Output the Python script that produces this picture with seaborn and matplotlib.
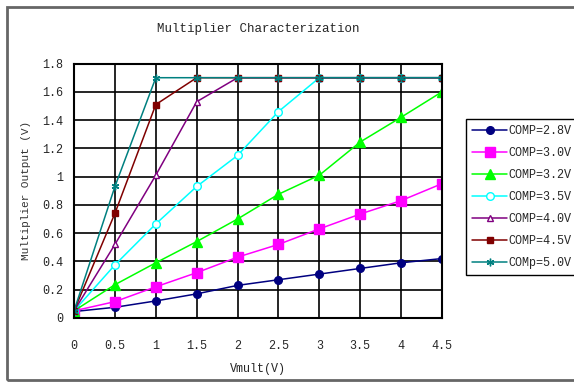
import matplotlib
matplotlib.use("Agg")
import matplotlib.pyplot as plt
import matplotlib.patches as mpatches
import numpy as np
import pandas as pd
import seaborn as sns

# data
vmult = [0, 0.5, 1, 1.5, 2, 2.5, 3, 3.5, 4, 4.5]
comp_28 = [0.045, 0.075, 0.12, 0.17, 0.23, 0.27, 0.31, 0.35, 0.39, 0.42]
comp_30 = [0.05, 0.115, 0.22, 0.32, 0.43, 0.52, 0.63, 0.735, 0.83, 0.95]
comp_32 = [0.05, 0.235, 0.39, 0.54, 0.70, 0.875, 1.01, 1.245, 1.42, 1.6]
comp_35 = [0.05, 0.375, 0.665, 0.93, 1.15, 1.46, 1.7, 1.7, 1.7, 1.7]
comp_40 = [0.05, 0.52, 1.01, 1.53, 1.7, 1.7, 1.7, 1.7, 1.7, 1.7]
comp_45 = [0.05, 0.74, 1.51, 1.7, 1.7, 1.7, 1.7, 1.7, 1.7, 1.7]
comp_50 = [0.05, 0.93, 1.7, 1.7, 1.7, 1.7, 1.7, 1.7, 1.7, 1.7]
labels = ["COMP=2.8V", "COMP=3.0V", "COMP=3.2V", "COMP=3.5V",
          "COMP=4.0V", "COMP=4.5V", "COMp=5.0V"]
x_ticks = [0, 0.5, 1, 1.5, 2, 2.5, 3, 3.5, 4, 4.5]
y_ticks = [0, 0.2, 0.4, 0.6, 0.8, 1, 1.2, 1.4, 1.6, 1.8]

series = [comp_28, comp_30, comp_32, comp_35, comp_40, comp_45, comp_50]
colors = ["#000080", "#FF00FF", "#00FF00", "#00FFFF", "#800080", "#800000", "#008080"]
markers = ["o", "s", "^", "o", "^", "s", (6, 2, 0)]
msizes = [5.5, 6.5, 6.5, 5.5, 4, 5, 5.5]
mfaces = [None, None, None, "white", "white", None, None]

sns.set_style("white")
plt.rcParams["font.family"] = ["Liberation Mono", "DejaVu Sans"]

fig = plt.figure(figsize=(5.74, 3.83), dpi=100)
ax = fig.add_axes([0.129, 0.170, 0.641, 0.664])

for vals, lab, c, m, ms, mf in zip(series, labels, colors, markers, msizes, mfaces):
    df = pd.DataFrame({"x": vmult, "y": vals})
    sns.lineplot(data=df, x="x", y="y", ax=ax, color=c, marker=m, markersize=ms,
                 markerfacecolor=mf if mf else c, markeredgecolor=c,
                 markeredgewidth=1.0, linewidth=1.1, label=lab)

ax.set_xlim(0, 4.5)
ax.set_ylim(0, 1.8)
ax.set_xticks(x_ticks)
ax.set_xticklabels([f"{t:g}" for t in x_ticks])
ax.set_yticks(y_ticks)
ax.set_yticklabels([f"{t:g}" for t in y_ticks])
ax.grid(True, color="black", linewidth=1.2)
ax.set_axisbelow(True)
for s in ax.spines.values():
    s.set_color("black")
    s.set_linewidth(1.5)
ax.tick_params(axis="x", length=0, pad=16, labelsize=8.5)
ax.tick_params(axis="y", length=0, pad=8, labelsize=8.5)
ax.set_xlabel("Vmult(V)", fontsize=8.5, labelpad=8)
ax.set_ylabel("Multiplier Output (V)", fontsize=8, labelpad=8, color="#333333")
ax.set_title("Multiplier Characterization", fontsize=9, pad=23)

ax.legend(loc="upper left", bbox_to_anchor=(0.812, 0.689), bbox_transform=fig.transFigure,
          frameon=True, fancybox=False, edgecolor="black", framealpha=1,
          fontsize=8.5, handlelength=3.0, labelspacing=0.85, borderpad=0.5,
          handletextpad=0.1, borderaxespad=0)

# outer chart frame
fig.patches.append(mpatches.Rectangle((0.012, 0.008), 1.2, 0.975, transform=fig.transFigure,
                                      fill=False, edgecolor="#666666", linewidth=2))

fig.savefig("out.png", dpi=100)
